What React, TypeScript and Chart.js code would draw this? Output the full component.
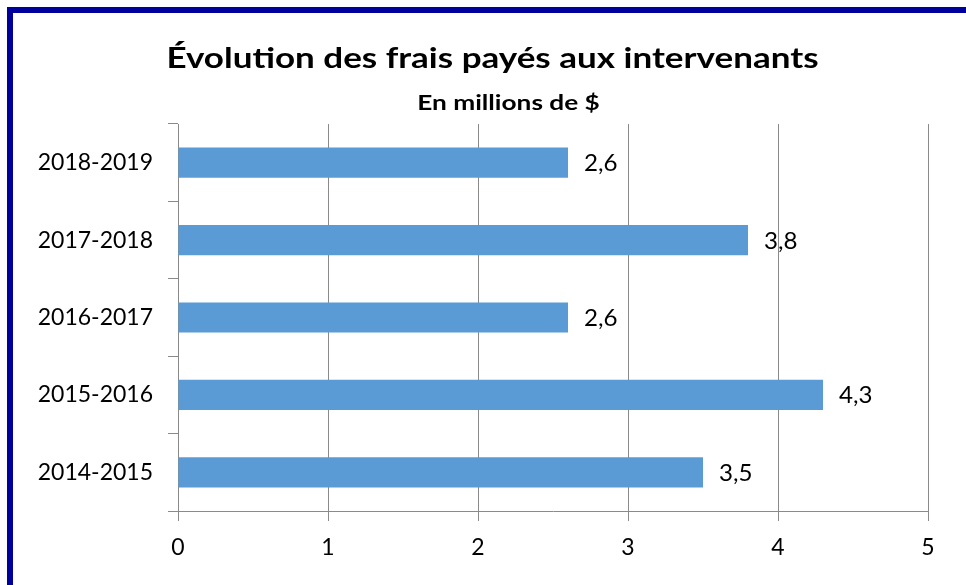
import React, { useEffect, useRef } from "react";
import { Chart, registerables } from "chart.js";

Chart.register(...registerables);

const categories = ["2018-2019", "2017-2018", "2016-2017", "2015-2016", "2014-2015"];
const values = [2.6, 3.8, 2.6, 4.3, 3.5];
const valueLabels = ["2,6", "3,8", "2,6", "4,3", "3,5"];
const xMin = 0;
const xMax = 5;
const xStep = 1;
const titleText = "Évolution des frais payés aux intervenants";
const subtitleText = "En millions de $";

const FONT = "Lato, 'Open Sans', sans-serif";
const GRID = "#8a8a8a";
const TEXT_STRETCH = 1.25;

const labelPlugin = {
  id: "valueLabels",
  afterDatasetsDraw(chart: any) {
    const ctx = chart.ctx;
    const meta = chart.getDatasetMeta(0);
    ctx.save();
    ctx.font = `23px ${FONT}`;
    ctx.fillStyle = "#000";
    ctx.textAlign = "left";
    ctx.textBaseline = "middle";
    meta.data.forEach((bar: any, i: number) => {
      ctx.save();
      ctx.translate(bar.x + 16, bar.y + 1);
      ctx.scale(1.05, 1);
      ctx.fillText(valueLabels[i], 0, 0);
      ctx.restore();
    });
    ctx.restore();
  },
};

function stretchedText(ctx: any, text: string, font: string, cx: number, baseline: number) {
  ctx.save();
  ctx.font = font;
  ctx.textAlign = "center";
  ctx.textBaseline = "alphabetic";
  ctx.translate(cx, baseline);
  ctx.scale(TEXT_STRETCH, 1);
  ctx.fillText(text, 0, 0);
  ctx.restore();
}

const titlePlugin = {
  id: "titles",
  afterDraw(chart: any) {
    const ctx = chart.ctx;
    ctx.save();
    ctx.fillStyle = "#000";
    stretchedText(ctx, titleText, `bold 28px ${FONT}`, 492.5, 68);
    stretchedText(ctx, subtitleText, `bold 21px ${FONT}`, 508.5, 110);
    ctx.restore();
  },
};

export default function App() {
  const ref = useRef<HTMLCanvasElement>(null);

  useEffect(() => {
    document.body.style.margin = "0";
    const canvas = ref.current;
    if (!canvas) return;
    const chart = new Chart(canvas, {
      type: "bar",
      data: {
        labels: categories,
        datasets: [
          {
            data: values,
            backgroundColor: "#5b9bd5",
            borderWidth: 0,
            barPercentage: 0.39,
            categoryPercentage: 1,
          },
        ],
      },
      options: {
        indexAxis: "y",
        responsive: false,
        animation: false,
        layout: { padding: { top: 124, left: 0, right: 38, bottom: 0 } },
        plugins: {
          legend: { display: false },
          tooltip: { enabled: false },
          title: { display: false },
        },
        scales: {
          x: {
            min: xMin,
            max: xMax,
            ticks: {
              stepSize: xStep,
              color: "#000",
              font: { family: FONT, size: 23 },
              padding: 13,
            },
            grid: { color: GRID, lineWidth: 1, tickLength: 10 },
            border: { color: GRID, width: 1 },
            afterFit(s: any) {
              s.height = 74;
            },
          },
          y: {
            ticks: {
              color: "#000",
              font: { family: FONT, size: 23 },
              padding: 15,
            },
            grid: {
              drawOnChartArea: false,
              color: GRID,
              lineWidth: 1,
              tickLength: 10,
              offset: true,
            },
            border: { color: GRID, width: 1 },
            afterFit(s: any) {
              s.width = 178;
            },
          },
        },
      },
      plugins: [labelPlugin, titlePlugin],
    });
    return () => chart.destroy();
  }, []);

  return (
    <div style={{ position: "relative", width: 966, height: 585, background: "#fff", overflow: "hidden" }}>
      <canvas ref={ref} width={966} height={585} style={{ display: "block" }} />
      <div
        style={{
          position: "absolute",
          left: 7,
          top: 7,
          width: 1000,
          height: 1000,
          borderTop: "6px solid #00009c",
          borderLeft: "6px solid #00009c",
          pointerEvents: "none",
        }}
      />
    </div>
  );
}
